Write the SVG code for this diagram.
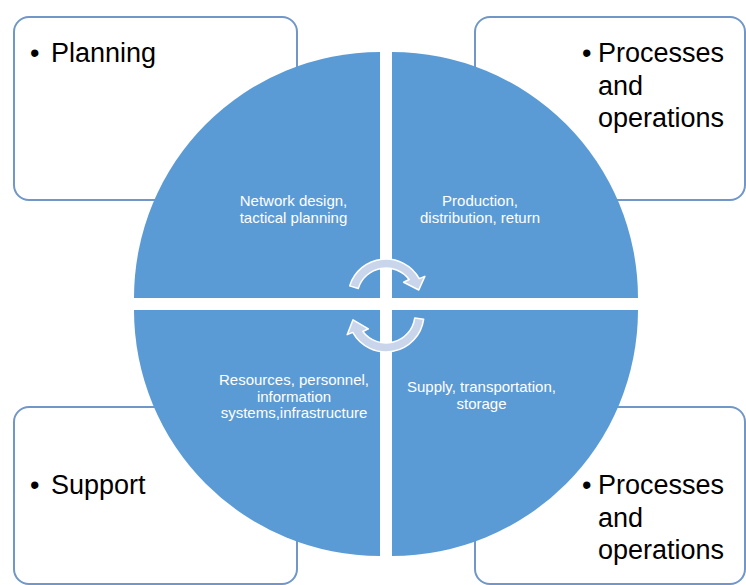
<svg xmlns="http://www.w3.org/2000/svg" width="746" height="585" viewBox="0 0 746 585">
<style>
.box{fill:#ffffff;stroke:#7097c8;stroke-width:2}
.quad{fill:#5b9bd5}
.lbl{font-family:"Liberation Sans",Arial,sans-serif;font-size:27px;fill:#000000}
.in{font-family:"Liberation Sans",Arial,sans-serif;font-size:15px;fill:#ffffff;text-anchor:middle}
.arr{fill:#c9d5ea;stroke:#ffffff;stroke-width:1.5;stroke-linejoin:round}
</style>
<rect width="746" height="585" fill="#ffffff"/>
<g id="box-planning">
<rect class="box" x="14" y="17" width="283" height="183" rx="15"/>
<text class="lbl" y="62"><tspan x="30">•</tspan><tspan x="51">Planning</tspan></text>
</g>
<g id="box-processes-top">
<rect class="box" x="475" y="17" width="270" height="183" rx="15"/>
<text class="lbl"><tspan x="582" y="62">•</tspan><tspan x="598" y="62">Processes</tspan><tspan x="598" y="94.5">and</tspan><tspan x="598" y="127">operations</tspan></text>
</g>
<g id="box-support">
<rect class="box" x="14" y="407" width="283" height="177" rx="15"/>
<text class="lbl" y="494"><tspan x="30">•</tspan><tspan x="51">Support</tspan></text>
</g>
<g id="box-processes-bottom">
<rect class="box" x="475" y="407" width="270" height="177" rx="15"/>
<text class="lbl"><tspan x="582" y="494">•</tspan><tspan x="598" y="494">Processes</tspan><tspan x="598" y="526.5">and</tspan><tspan x="598" y="559">operations</tspan></text>
</g>
<g id="quad-network">
<path class="quad" d="M380,298 L134,298 A246,246 0 0 1 380,52 Z"/>
<text class="in"><tspan x="293.5" y="206">Network design,</tspan><tspan x="293.5" y="223">tactical planning</tspan></text>
</g>
<g id="quad-production">
<path class="quad" d="M392,298 L392,52 A246,246 0 0 1 638,298 Z"/>
<text class="in"><tspan x="480" y="206">Production,</tspan><tspan x="480" y="223">distribution, return</tspan></text>
</g>
<g id="quad-supply">
<path class="quad" d="M392,310 L638,310 A246,246 0 0 1 392,556 Z"/>
<text class="in"><tspan x="481.5" y="392">Supply, transportation,</tspan><tspan x="481.5" y="409">storage</tspan></text>
</g>
<g id="quad-resources">
<path class="quad" d="M380,310 L380,556 A246,246 0 0 1 134,310 Z"/>
<text class="in"><tspan x="294" y="385">Resources, personnel,</tspan><tspan x="294" y="401.5">information</tspan><tspan x="294" y="418">systems,infrastructure</tspan></text>
</g>
<g id="connectors">
<path class="arr" d="M349.66,285.89 A38,38 0 0 1 419.23,278.58 L424.85,276.34 L418.77,290.03 L403.62,282.22 L409.16,279.55 A29,29 0 0 0 358.27,288.52 Z"/>
<path class="arr" d="M423.63,319.29 A38,38 0 0 1 352.77,332.42 L347.15,334.66 L353.01,319.82 L368.38,328.78 L362.84,331.45 A29,29 0 0 0 414.72,318.04 Z"/>
</g>
</svg>
